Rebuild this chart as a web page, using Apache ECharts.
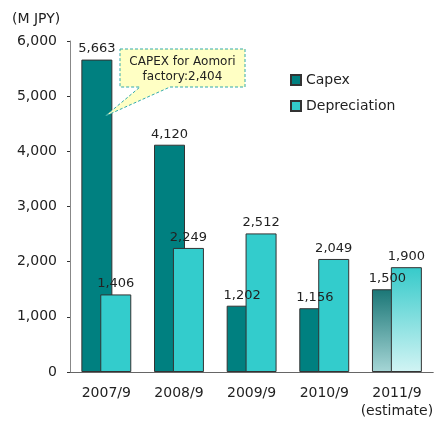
<!DOCTYPE html>
<html>
<head>
<meta charset="utf-8">
<script src="https://cdn.jsdelivr.net/npm/echarts@6/dist/echarts.min.js"></script>
<style>
  html, body { margin: 0; padding: 0; background: #fff; }
  #chart { width: 436px; height: 425px; }
</style>
</head>
<body>
<div id="chart"></div>
<script>
const categories = ['2007/9', '2008/9', '2009/9', '2010/9', '2011/9\n(estimate)']
const capex = [5663, 4120, 1202, 1156, 1500]
const depreciation = [1406, 2249, 2512, 2049, 1900]
const yTicks = { min: 0, max: 6000, interval: 1000 }
const calloutText = 'CAPEX for Aomori\nfactory:2,404'

const FONT = 'DejaVu Sans'
const chart = echarts.init(document.getElementById('chart'))

function grad(top, bottom) {
  return new echarts.graphic.LinearGradient(0, 0, 0, 1, [
    { offset: 0, color: top },
    { offset: 1, color: bottom },
  ])
}

// last year is an estimate -> faded gradient bars
const capexData = capex.map((v, i) => i === capex.length - 1
  ? { value: v, itemStyle: { color: grad('#1a7676', '#a6d6d6') } }
  : v)
const deprData = depreciation.map((v, i) => i === depreciation.length - 1
  ? { value: v, itemStyle: { color: grad('#36caca', '#d2f4f4') } }
  : v)

const labelStyle = {
  show: true,
  position: 'top',
  distance: 4,
  color: '#222',
  fontFamily: FONT,
  fontSize: 13,
  formatter: p => p.value.toLocaleString('en-US'),
}

const titleText = {
  type: 'text',
  left: 12,
  top: 12,
  style: { text: '(M JPY)', fill: '#222', font: '14px "DejaVu Sans"' },
}

chart.setOption({
  animation: false,
  textStyle: { fontFamily: FONT },
  grid: { left: 70, right: 1, top: 41, bottom: 53 },
  legend: {
    orient: 'vertical',
    left: 285,
    top: 68,
    itemWidth: 10,
    itemHeight: 10,
    itemGap: 12,
    icon: 'rect',
    textStyle: { color: '#222', fontSize: 14, fontFamily: FONT },
    data: ['Capex', 'Depreciation'],
  },
  xAxis: {
    type: 'category',
    data: categories,
    axisLine: { lineStyle: { color: '#666' } },
    axisTick: { inside: true, length: 5, lineStyle: { color: '#333' } },
    axisLabel: { interval: 0, color: '#222', fontSize: 14, fontFamily: FONT, margin: 12, lineHeight: 18 },
  },
  yAxis: {
    type: 'value',
    min: yTicks.min,
    max: yTicks.max,
    interval: yTicks.interval,
    axisLine: { show: true, lineStyle: { color: '#888' } },
    axisTick: { show: true, length: 3, lineStyle: { color: '#333' } },
    splitLine: { show: false },
    axisLabel: {
      color: '#222', fontSize: 14, fontFamily: FONT, margin: 13,
      formatter: v => v.toLocaleString('en-US'),
    },
  },
  series: [
    {
      name: 'Capex',
      type: 'bar',
      data: capexData,
      barWidth: 31,
      barGap: '-39%',
      itemStyle: { color: '#008080', borderColor: '#333', borderWidth: 1 },
      label: labelStyle,
    },
    {
      name: 'Depreciation',
      type: 'bar',
      data: deprData,
      barWidth: 31,
      itemStyle: { color: '#33cccc', borderColor: '#333', borderWidth: 1 },
      label: labelStyle,
    },
  ],
})

// callout pointing into the 2007 capex bar
const tip = chart.convertToPixel({ seriesIndex: 0 }, [0, 4640])
const bx = 120, by = 49, bw = 125, bh = 38
chart.setOption({
  graphic: [
    titleText,
    {
      type: 'polygon',
      shape: {
        points: [
          [bx, by], [bx + bw, by], [bx + bw, by + bh], [bx + 50, by + bh],
          [tip[0] - 1, tip[1]], [bx + 20, by + bh], [bx, by + bh],
        ],
      },
      style: { fill: '#ffffc4', stroke: '#33aaaa', lineWidth: 1, lineDash: [3, 2] },
      z: 10,
    },
    {
      type: 'text',
      x: bx + bw / 2,
      y: by + 5,
      style: {
        text: calloutText, fill: '#222', font: '12px "DejaVu Sans"',
        align: 'center', lineHeight: 15,
      },
      z: 11,
    },
  ],
})
</script>
</body>
</html>
